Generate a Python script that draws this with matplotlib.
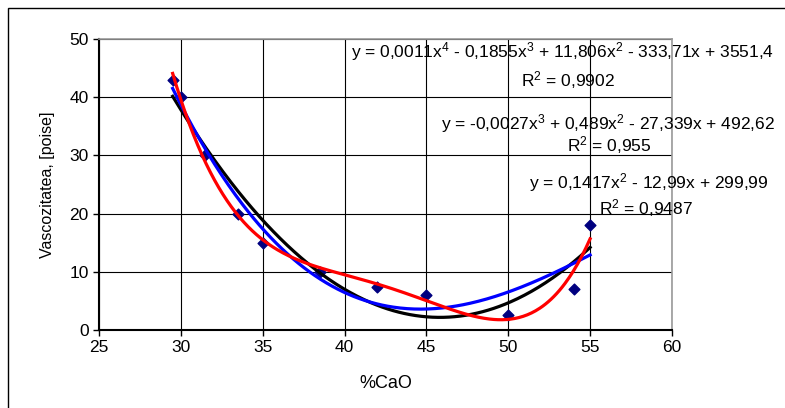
import numpy as np
import matplotlib.pyplot as plt
from matplotlib.patches import Rectangle

plt.rcParams['font.family'] = ['Liberation Sans', 'DejaVu Sans']

# measured points
cao = [29.5, 30, 31.5, 33.5, 35, 38.5, 42, 45, 50, 54, 55]
visc = [43, 40, 30, 20, 15, 10, 7.4, 6, 2.6, 7, 18]

eq_labels = [
    r'y = 0,0011x$\mathregular{^4}$ - 0,1855x$\mathregular{^3}$ + 11,806x$\mathregular{^2}$ - 333,71x + 3551,4',
    r'y = -0,0027x$\mathregular{^3}$ + 0,489x$\mathregular{^2}$ - 27,339x + 492,62',
    r'y = 0,1417x$\mathregular{^2}$ - 12,99x + 299,99',
]
r2_labels = [r'R$\mathregular{^2}$ = 0,9902', r'R$\mathregular{^2}$ = 0,955', r'R$\mathregular{^2}$ = 0,9487']

fig = plt.figure(figsize=(7.85, 4.08), dpi=100)
ax = fig.add_axes([0.1261, 0.1912, 0.7299, 0.7132])

# outer chart frame (right and bottom edges fall outside the picture)
fig.patches.append(Rectangle((8 / 785, -0.1), 1.2, (408 - 8) / 408 + 0.1,
                             transform=fig.transFigure, fill=False,
                             edgecolor='black', linewidth=1.0))

# polynomial trendlines fitted to the points
xs = np.linspace(min(cao), max(cao), 300)
for deg, col in [(2, 'black'), (3, '#0000ff'), (4, '#ff0000')]:
    c = np.polyfit(cao, visc, deg)
    ax.plot(xs, np.polyval(c, xs), color=col, linewidth=2.3, zorder=3)

ax.scatter(cao, visc, marker='D', s=30, color='#000080', zorder=2)

ax.set_xlim(25, 60)
ax.set_ylim(0, 50)
ax.set_xticks(range(25, 61, 5))
ax.set_yticks(range(0, 51, 10))
ax.grid(True, color='black', linewidth=0.8)
ax.set_axisbelow(True)
ax.tick_params(direction='out', length=4, labelsize=12.5, colors='black', width=1)
for s in ['top', 'right']:
    ax.spines[s].set_color('#999999')
    ax.spines[s].set_linewidth(1.2)
for s in ['left', 'bottom']:
    ax.spines[s].set_linewidth(1.5)

ax.set_xlabel('%CaO', fontsize=13, labelpad=14)
ax.set_ylabel('Vascozitatea, [poise]', fontsize=11.5, labelpad=10)

# trendline labels
fs = 12.5
ax.text(40.4, 47.8, eq_labels[0], fontsize=fs, va='center', ha='left', zorder=5, clip_on=False)
ax.text(53.66, 43.0, r2_labels[0], fontsize=fs, va='center', ha='center', zorder=5, clip_on=False)
ax.text(66.3, 35.5, eq_labels[1], fontsize=fs, va='center', ha='right', zorder=5, clip_on=False)
ax.text(56.16, 31.7, r2_labels[1], fontsize=fs, va='center', ha='center', zorder=5, clip_on=False)
ax.text(65.9, 25.4, eq_labels[2], fontsize=fs, va='center', ha='right', zorder=5, clip_on=False)
ax.text(58.4, 20.9, r2_labels[2], fontsize=fs, va='center', ha='center', zorder=5, clip_on=False)

fig.savefig('out.png', dpi=100)
